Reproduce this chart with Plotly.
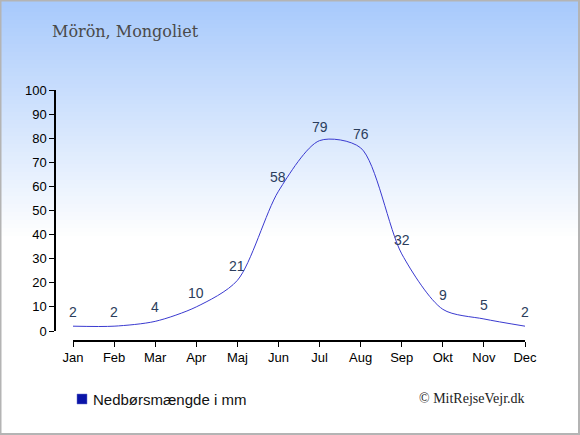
import plotly.graph_objects as go

# datos
meses = ["Jan", "Feb", "Mar", "Apr", "Maj", "Jun", "Jul", "Aug", "Sep", "Okt", "Nov", "Dec"]
nedbor = [2, 2, 4, 10, 21, 58, 79, 76, 32, 9, 5, 2]
titulo = "Mörön, Mongoliet"
serie = "Nedbørsmængde i mm"
copy_txt = "© MitRejseVejr.dk"

W, H = 580, 435
ML, MR, MT, MB = 55, 55, 90, 94
pw, ph = W - ML - MR, H - MT - MB


def px_x(p):
    return (p - ML) / pw


def px_y(p):
    return (H - MB - p) / ph


fig = go.Figure()

fig.add_trace(go.Scatter(
    x=list(range(len(meses))), y=nedbor, mode="lines",
    line=dict(color="#3a3ad0", width=1, shape="spline", smoothing=0.8),
    showlegend=False, hoverinfo="skip",
))

# etiquetas de valores
notas = []
for i, v in enumerate(nedbor):
    notas.append(dict(x=i, y=v, xref="x", yref="y", text=str(v), showarrow=False,
                      yshift=14, font=dict(family="Liberation Sans, Arial", size=14, color="#2b3d5c")))

# fondo degradado
shapes = []
n = 60
top, bot = 0, 240
for i in range(n):
    y0 = top + (bot - top) * i / n
    y1 = top + (bot - top) * (i + 1) / n
    t = i / (n - 1)
    r = int(168 + (255 - 168) * t)
    g = int(202 + (255 - 202) * t)
    b = int(252 + (255 - 252) * t)
    shapes.append(dict(type="rect", xref="paper", yref="paper", layer="below",
                       x0=px_x(0), x1=px_x(W), y0=px_y(y1 + 0.5), y1=px_y(y0),
                       fillcolor=f"rgb({r},{g},{b})", line=dict(width=0)))
shapes.append(dict(type="rect", xref="paper", yref="paper", layer="above",
                   x0=px_x(0.5), x1=px_x(W - 1), y0=px_y(H - 1), y1=px_y(0.5),
                   line=dict(color="#b4b4b4", width=2)))
# cuadro de leyenda
shapes.append(dict(type="rect", xref="paper", yref="paper",
                   x0=px_x(77), x1=px_x(87), y0=px_y(404), y1=px_y(394),
                   fillcolor="#0a14a8", line=dict(color="#6a70c8", width=0.5)))

fig.update_layout(
    width=W, height=H,
    margin=dict(l=ML, r=MR, t=MT, b=MB),
    paper_bgcolor="white", plot_bgcolor="rgba(0,0,0,0)",
    shapes=shapes, showlegend=False,
    font=dict(family="Liberation Sans, Arial", size=13, color="black"),
    xaxis=dict(domain=[px_x(73), 1], range=[0, 11], anchor="free", position=0,
               tickmode="array", tickvals=list(range(12)), ticktext=meses,
               showline=True, linecolor="black", linewidth=1.5,
               ticks="outside", ticklen=5, tickcolor="black",
               showgrid=False, zeroline=False, fixedrange=True),
    yaxis=dict(domain=[10 / ph, 1], range=[0, 100], anchor="free", position=0,
               tickmode="linear", tick0=0, dtick=10,
               showline=True, linecolor="black", linewidth=1.5,
               ticks="outside", ticklen=5, tickcolor="black",
               showgrid=False, zeroline=False, fixedrange=True),
    annotations=notas + [
        dict(text=titulo, xref="paper", yref="paper", x=px_x(50), y=px_y(32),
             xanchor="left", yanchor="middle", showarrow=False,
             font=dict(family="DejaVu Serif", size=16, color="#4a4a4a")),
        dict(text=serie, xref="paper", yref="paper", x=px_x(91), y=px_y(399),
             xanchor="left", yanchor="middle", showarrow=False,
             font=dict(family="Liberation Sans, Arial", size=15, color="#111")),
        dict(text=copy_txt, xref="paper", yref="paper", x=px_x(527), y=px_y(398),
             xanchor="right", yanchor="middle", showarrow=False,
             font=dict(family="Liberation Serif", size=14, color="#222")),
    ],
)

fig.write_html("out.html", config={"displayModeBar": False},
               post_script="document.body.style.margin='0';")
